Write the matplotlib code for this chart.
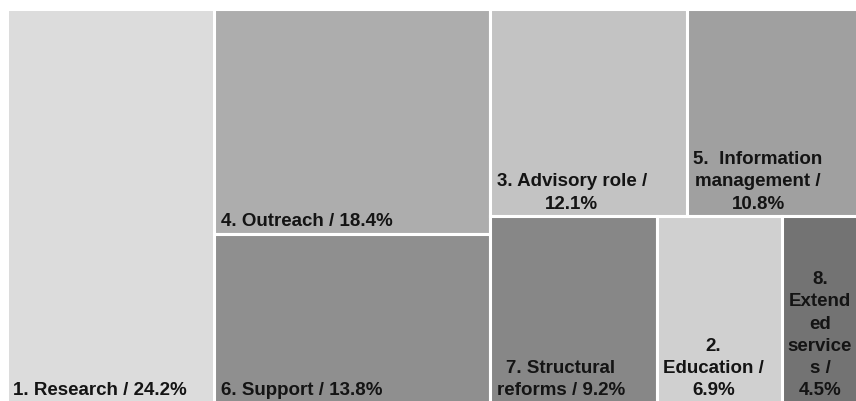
import matplotlib.pyplot as plt
from matplotlib.patches import Rectangle

# share of activities, largest first
categories = ["Research", "Outreach", "Support", "Advisory role",
              "Information management", "Structural reforms",
              "Education", "Extended services"]
shares = [24.2, 18.4, 13.8, 12.1, 10.8, 9.2, 6.9, 4.5]
label_fmt = [
    "1. Research / {}%",
    "4. Outreach / {}%",
    "6. Support / {}%",
    "3. Advisory role /\n{}%",
    "5.  Information\nmanagement /\n{}%",
    "7. Structural\nreforms / {}%",
    "2.\nEducation /\n{}%",
    "8.\nExtend\ned\nservice\ns /\n{}%",
]
tile_colors = ["#dcdcdc", "#adadad", "#8f8f8f", "#c3c3c3",
               "#a0a0a0", "#878787", "#d0d0d0", "#737373"]

W, H = 856, 394


def worst(row, side):
    s = sum(row)
    return max(max(side * side * r / (s * s), s * s / (side * side * r)) for r in row)


def squarify(areas, x, y, w, h):
    rects = []
    areas = list(areas)
    while areas:
        side = min(w, h)
        row = [areas.pop(0)]
        while areas and worst(row + [areas[0]], side) <= worst(row, side):
            row.append(areas.pop(0))
        s = sum(row)
        if w >= h:
            # stack the row as a column on the left
            cw = s / h
            yy = y
            for a in row:
                rects.append((x, yy, cw, a / cw))
                yy += a / cw
            x += cw
            w -= cw
        else:
            # lay the row across the top
            rh = s / w
            xx = x
            for a in row:
                rects.append((xx, y, a / rh, rh))
                xx += a / rh
            y += rh
            h -= rh
    return rects


total = sum(shares)
areas = [v / total * W * H for v in shares]
rects = squarify(areas, 0, 0, W, H)

fig = plt.figure(figsize=(8.56, 4.02), dpi=100)
ax = fig.add_axes([7 / 856, -2 / 402, W / 856, H / 402])
ax.set_xlim(0, W)
ax.set_ylim(H, 0)
ax.axis("off")

for (x, y, w, h), v, fmt, c in zip(rects, shares, label_fmt, tile_colors):
    ax.add_patch(Rectangle((x, y), w, h, facecolor=c, edgecolor="white", lw=2.2))
    ax.annotate(fmt.format(v), xy=(x, y + h), xytext=(4.5, 3.5),
                textcoords="offset points", ha="left", va="bottom",
                multialignment="center", fontsize=13.5, fontweight="bold",
                family="Liberation Sans", color="#141414", linespacing=1.4)

fig.savefig("out.png", dpi=100)
